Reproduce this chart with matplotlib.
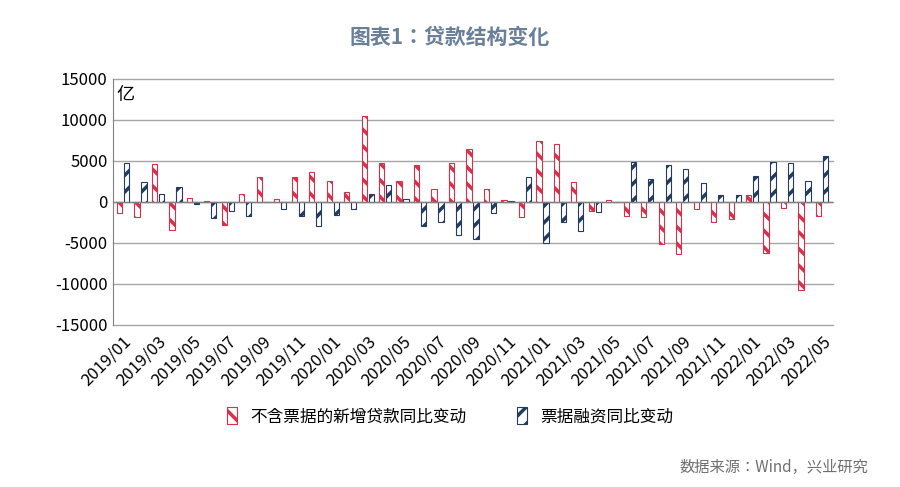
import matplotlib
matplotlib.use("Agg")
import matplotlib.pyplot as plt
from matplotlib import font_manager
import numpy as np

cjk = [f.name for f in font_manager.fontManager.ttflist if 'CJK' in f.name]
pref = [n for n in ['Noto Sans CJK SC', 'Noto Sans CJK JP', 'Noto Sans CJK TC', 'Noto Sans CJK KR'] if n in cjk] or cjk
plt.rcParams['font.family'] = 'sans-serif'
plt.rcParams['font.sans-serif'] = pref + ['DejaVu Sans']
plt.rcParams['axes.unicode_minus'] = False
plt.rcParams['hatch.linewidth'] = 2.5

months = [f"{y}/{m:02d}" for y in (2019, 2020, 2021) for m in range(1, 13)] + [f"2022/{m:02d}" for m in range(1, 6)]
loans_ex_bills = [-1300, -1900, 4600, -3400, 500, 100, -2800, 900, 3000, 400, 3000, 3700,
                  2600, 1200, 10500, 4700, 2500, 4500, 1600, 4800, 6500, 1600, 200, -1900,
                  7400, 7000, 2400, -1100, 200, -1700, -1900, -5100, -6400, -900, -2400, -2100,
                  800, -6200, -700, -10700, -1700]
bills = [4800, 2400, 1000, 1800, -200, -2000, -1100, -1700, 0, -900, -1700, -3000,
         -1600, -900, 1000, 2000, 400, -3000, -2400, -4100, -4500, -1300, 100, 3000,
         -5000, -2500, -3600, -1200, 0, 4900, 2800, 4500, 4000, 2300, 800, 800,
         3200, 4900, 4700, 2500, 5600]
red = '#d8304a'
blue = '#243a5e'

fig = plt.figure(figsize=(9, 4.87), dpi=100)
ax = fig.add_axes([0.125, 0.333, 0.8, 0.505])
x = np.arange(len(months))
w = 0.3
ax.bar(x - 0.05 - w/2, loans_ex_bills, w, facecolor='white', edgecolor=red, hatch='\\\\', linewidth=0.8,
       label='不含票据的新增贷款同比变动')
ax.bar(x + 0.05 + w/2, bills, w, facecolor='white', edgecolor=blue, hatch='//', linewidth=0.8,
       label='票据融资同比变动')
ax.set_ylim(-15000, 15000)
ax.set_yticks(range(-15000, 15001, 5000))
ax.set_xlim(-0.6, len(months) - 0.4)
for v in range(-15000, 15001, 5000):
    ax.axhline(v, color='#a6a6a6', linewidth=1, zorder=0, clip_on=False)
ax.axhline(0, color='#808080', linewidth=1)
for s in ['top', 'right', 'bottom']:
    ax.spines[s].set_visible(False)
ax.spines['left'].set_color('#808080')
ax.set_xticks(x[::2])
ax.set_xticklabels(months[::2], rotation=45, ha='right', rotation_mode='anchor', fontsize=12)
ax.tick_params(axis='x', length=0, pad=6)
ax.tick_params(axis='y', labelsize=12, length=0)
ax.text(0.005, 0.97, '亿', transform=ax.transAxes, fontsize=13, va='top')
fig.text(0.5, 0.91, '图表1：贷款结构变化', ha='center', fontsize=15, color='#6a7f99', fontweight='bold')
fig.legend(loc='center', bbox_to_anchor=(0.5, 0.145), ncol=2, frameon=False, fontsize=12,
           handlelength=0.6, handleheight=1.2, columnspacing=3)
fig.text(0.965, 0.03, '数据来源：Wind，兴业研究', ha='right', fontsize=11, color='#707070')
fig.savefig('out.png', dpi=100)
